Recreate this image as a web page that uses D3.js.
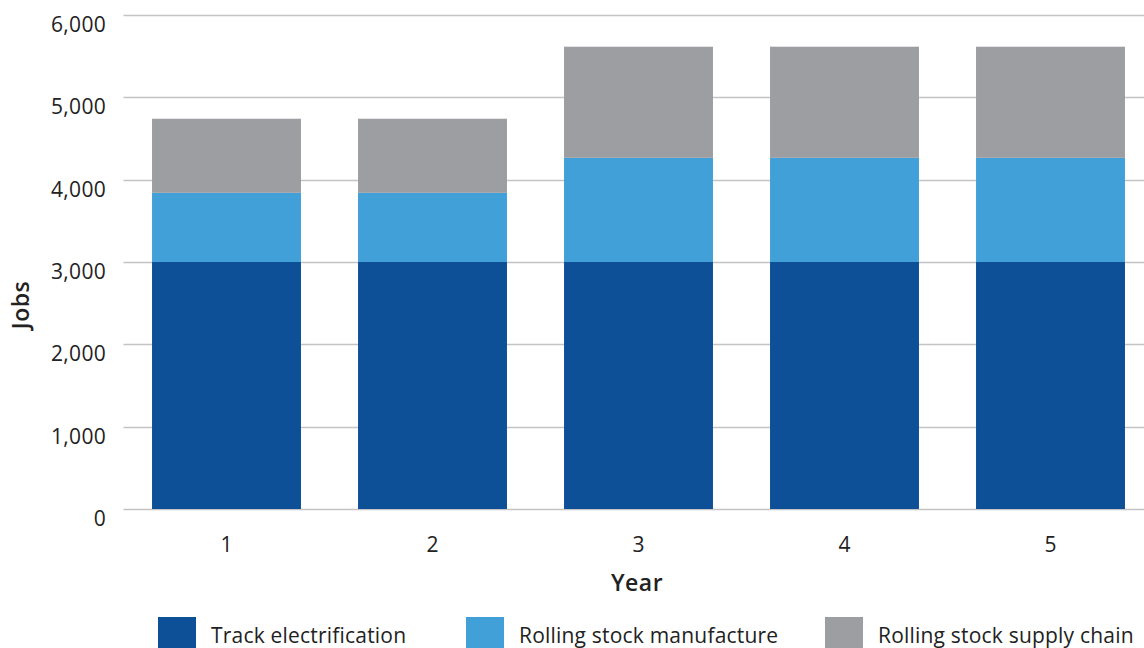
<!DOCTYPE html>
<html><head><meta charset="utf-8">
<script src="https://cdn.jsdelivr.net/npm/d3@7"></script>
<style>
html,body{margin:0;padding:0;background:#fff;overflow:hidden}
text{font-family:"Open Sans",Lato,sans-serif;fill:#222}
</style></head>
<body><svg id="c" width="1144" height="648"></svg>
<script>
const years = ["1","2","3","4","5"];
const seriesNames = ["Track electrification","Rolling stock manufacture","Rolling stock supply chain"];
const trackElectrification = [3000,3000,3000,3000,3000];
const rollingStockManufacture = [840,840,1265,1265,1265];
const rollingStockSupplyChain = [900,900,1350,1350,1350];
const yTicks = [0,1000,2000,3000,4000,5000,6000];
const colors = ["#0d5097","#41a0d8","#9d9ea2"];

const svg = d3.select("#c");
const x = d3.scaleBand().domain(years).range([123.5,1153.5]).paddingInner(0.277).paddingOuter(0.1385);
const y = d3.scaleLinear().domain([0,6000]).range([509,15]);

const rows = years.map((yr,i)=>({year:yr,
  "Track electrification":trackElectrification[i],
  "Rolling stock manufacture":rollingStockManufacture[i],
  "Rolling stock supply chain":rollingStockSupplyChain[i]}));
const stack = d3.stack().keys(seriesNames)(rows);

// gridlines
svg.append("g").selectAll("line").data(yTicks).join("line")
  .attr("x1",123.5).attr("x2",1144)
  .attr("y1",d=>Math.round(y(d))+0.5).attr("y2",d=>Math.round(y(d))+0.5)
  .attr("stroke","#c4c4c4").attr("stroke-width",1.3);

// bars
svg.append("g").selectAll("g").data(stack).join("g")
  .attr("fill",(d,i)=>colors[i])
  .selectAll("rect").data(d=>d).join("rect")
  .attr("x",d=>x(d.data.year)).attr("width",x.bandwidth())
  .attr("y",d=>y(d[1])).attr("height",d=>y(d[0])-y(d[1]));

// y labels
svg.append("g").selectAll("text").data(yTicks).join("text")
  .attr("x",106).attr("y",d=>y(d)+17)
  .attr("text-anchor","end").attr("font-size",21).attr("letter-spacing",0.3)
  .text(d=>d3.format(",")(d));

// x labels
svg.append("g").selectAll("text").data(years).join("text")
  .attr("x",d=>x(d)+x.bandwidth()/2).attr("y",552)
  .attr("text-anchor","middle").attr("font-size",21)
  .text(d=>d);

svg.append("text").attr("x",637).attr("y",591).attr("text-anchor","middle")
  .attr("font-size",23).attr("font-weight",600).attr("letter-spacing",0.5).text("Year");
svg.append("text").attr("transform","translate(29,305) rotate(-90)")
  .attr("text-anchor","middle").attr("font-size",23).attr("font-weight",600).attr("letter-spacing",0.5).text("Jobs");

// legend
const legX = [158,466,825];
const lg = svg.append("g").selectAll("g").data(seriesNames).join("g")
  .attr("transform",(d,i)=>`translate(${legX[i]},617)`);
lg.append("rect").attr("width",38).attr("height",38).attr("fill",(d,i)=>colors[i]);
lg.append("text").attr("x",53).attr("y",26).attr("font-size",21).attr("letter-spacing",0.2).text(d=>d);
</script></body></html>
